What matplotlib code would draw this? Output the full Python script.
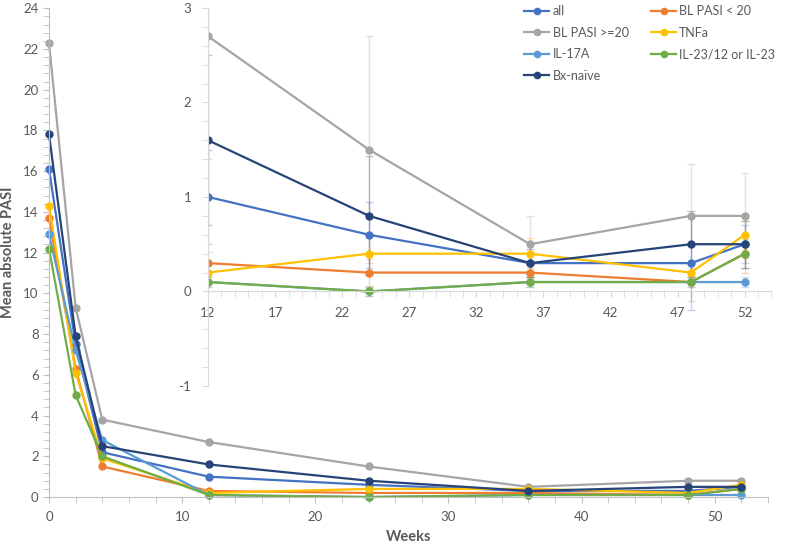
import matplotlib.pyplot as plt
import numpy as np
from matplotlib.ticker import MultipleLocator, FixedLocator

plt.rcParams['font.family'] = ['Lato', 'DejaVu Sans']
plt.rcParams['axes.unicode_minus'] = False

weeks = [0, 2, 4, 12, 24, 36, 48, 52]
labels = ['all', 'BL PASI < 20', 'BL PASI >=20', 'TNFa', 'IL-17A',
          'IL-23/12 or IL-23', 'Bx-naïve']
colors = ['#4472C4', '#ED7D31', '#A5A5A5', '#FFC000', '#5B9BD5',
          '#70AD47', '#264478']

pasi_all = [16.1, 7.5, 2.2, 1.0, 0.6, 0.3, 0.3, 0.5]
pasi_lt20 = [13.7, 6.3, 1.5, 0.3, 0.2, 0.2, 0.1, 0.4]
pasi_ge20 = [22.3, 9.3, 3.8, 2.7, 1.5, 0.5, 0.8, 0.8]
pasi_tnfa = [14.3, 6.1, 1.9, 0.2, 0.4, 0.4, 0.2, 0.6]
pasi_il17 = [12.9, 7.2, 2.8, 0.1, 0.0, 0.1, 0.1, 0.1]
pasi_il23 = [12.2, 5.0, 2.0, 0.1, 0.0, 0.1, 0.1, 0.4]
pasi_naive = [17.8, 7.9, 2.5, 1.6, 0.8, 0.3, 0.5, 0.5]
series = [pasi_all, pasi_lt20, pasi_ge20, pasi_tnfa, pasi_il17, pasi_il23, pasi_naive]

# error bars shown in the zoomed panel (weeks 12-52)
err_all = [0.5, 0.35, 0.1, 0.5, 0.2]
err_lt20 = [0.12, 0.14, 0.05, 0.05, 0.2]
err_ge20 = [1.3, 1.2, 0.3, 0.55, 0.45]
err_tnfa = [0.1, 0.2, 0.17, 0.1, 0.15]
err_il17 = [0.05, 0.05, 0.05, 0.05, 0.05]
err_il23 = [0.05, 0.05, 0.05, 0.2, 0.15]
err_naive = [0.9, 0.63, 0.15, 0.35, 0.25]
errors = [err_all, err_lt20, err_ge20, err_tnfa, err_il17, err_il23, err_naive]

txt = '#595959'
spine = '#BFBFBF'

fig = plt.figure(figsize=(7.97, 5.48), dpi=100)
ax = fig.add_axes([0.0615, 0.093, 0.902, 0.892])

for ys, c, lab in zip(series, colors, labels):
    ax.plot(weeks, ys, color=c, lw=1.6, marker='o', ms=5, label=lab, clip_on=False)

ax.set_xlim(0, 54)
ax.set_ylim(0, 24)
ax.xaxis.set_major_locator(FixedLocator([0, 10, 20, 30, 40, 50]))
ax.xaxis.set_minor_locator(MultipleLocator(2))
ax.yaxis.set_major_locator(MultipleLocator(2))
ax.yaxis.set_minor_locator(MultipleLocator(0.4))
for s in ['top', 'right']:
    ax.spines[s].set_visible(False)
for s in ['left', 'bottom']:
    ax.spines[s].set_color(spine)
ax.tick_params(which='both', color=spine, labelcolor=txt, labelsize=9.5, length=4)
ax.tick_params(axis='x', pad=6)
ax.set_xlabel('Weeks', fontsize=10.5, fontweight='bold', color=txt, labelpad=5)
ax.set_ylabel('Mean absolute PASI', fontsize=10.5, fontweight='bold', color=txt, labelpad=6)

# zoomed panel
ins = fig.add_axes([0.261, 0.2956, 0.707, 0.69])
ins.patch.set_alpha(0)
iw = weeks[3:]
for ys, e, c in zip(series, errors, colors):
    ins.errorbar(iw, ys[3:], yerr=e, fmt='none', ecolor=c, alpha=0.3,
                 elinewidth=1, capsize=3)
for ys, c in zip(series, colors):
    ins.plot(iw, ys[3:], color=c, lw=1.6, marker='o', ms=5)

ins.set_xlim(12, 54)
ins.set_ylim(-1, 3)
ins.xaxis.set_major_locator(FixedLocator(np.arange(12, 53, 5)))
ins.xaxis.set_minor_locator(MultipleLocator(1))
ins.yaxis.set_major_locator(MultipleLocator(1))
ins.yaxis.set_minor_locator(MultipleLocator(0.2))
ins.spines['bottom'].set_position(('data', 0))
for s in ['top', 'right']:
    ins.spines[s].set_visible(False)
for s in ['left', 'bottom']:
    ins.spines[s].set_color('#D9D9D9')
ins.tick_params(which='both', color='#D9D9D9', labelcolor=txt, labelsize=9.5, length=4)
ins.tick_params(axis='x', pad=7)
ins.tick_params(axis='y', pad=8)

# legend in row order like the original (two columns)
h, l = ax.get_legend_handles_labels()
order = [0, 2, 4, 6, 1, 3, 5]
fig.legend([h[i] for i in order], [l[i] for i in order], ncol=2,
           loc='upper left', bbox_to_anchor=(0.658, 0.99), frameon=False,
           borderpad=0, borderaxespad=0,
           fontsize=9, labelcolor=txt, handlelength=2.0, handletextpad=0.25,
           columnspacing=1.8, labelspacing=0.75, markerscale=0.9)

fig.savefig('out.png', dpi=100)
